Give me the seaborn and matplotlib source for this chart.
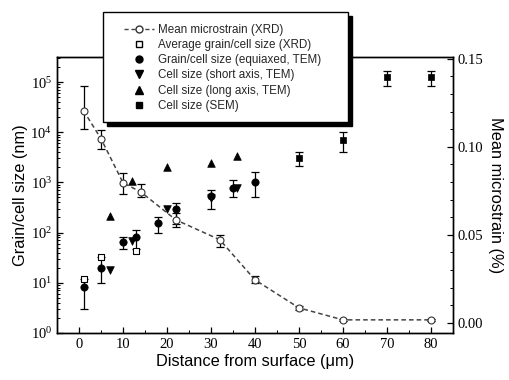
import numpy as np
import pandas as pd
import matplotlib
matplotlib.use("Agg")
import matplotlib.pyplot as plt
import seaborn as sns
from matplotlib.lines import Line2D
from matplotlib.patches import Rectangle
from matplotlib.ticker import LogLocator, MultipleLocator, NullFormatter, FixedLocator

sns.set_theme(style="ticks")
plt.rcParams['font.family'] = ['Liberation Sans', 'DejaVu Sans']

# Mean microstrain (XRD) - right axis
strain_x = [1, 5, 10, 14, 22, 32, 40, 50, 60, 80]
strain_y = [0.1205, 0.1045, 0.0795, 0.0744, 0.0585, 0.0472, 0.0244, 0.0085, 0.0017, 0.0017]
strain_lo = [0.110, 0.0989, 0.0733, 0.0716, 0.0545, 0.0432, 0.0224, 0.0075, 0.0012, 0.0012]
strain_hi = [0.1347, 0.1097, 0.0852, 0.0790, 0.0625, 0.0500, 0.0264, 0.0095, 0.0022, 0.0022]

# Average grain/cell size (XRD)
xrd_x = [1, 5, 13]
xrd_y = [12, 33, 42]

# Grain/cell size (equiaxed, TEM)
eq_x = [1, 5, 10, 13, 18, 22, 30, 35, 40]
eq_y = [8.3, 20, 66, 83, 158, 300, 525, 790, 1000]
eq_lo = [3, 10, 48, 46, 100, 145, 300, 500, 500]
eq_hi = [12, 32, 83, 110, 200, 380, 720, 1100, 1600]

# Cell size (short axis, TEM)
short_x = [7, 12, 20, 30, 36]
short_y = [18, 69, 290, 480, 760]

# Cell size (long axis, TEM)
long_x = [7, 12, 20, 30, 36]
long_y = [210, 1050, 2000, 2400, 3300]

# Cell size (SEM)
sem_x = [50, 60, 70, 80]
sem_y = [3000, 6900, 126000, 126000]
sem_lo = [2100, 4000, 83000, 83000]
sem_hi = [4000, 10000, 166000, 166000]

labels = ["Mean microstrain (XRD)", "Average grain/cell size (XRD)",
          "Grain/cell size (equiaxed, TEM)", "Cell size (short axis, TEM)",
          "Cell size (long axis, TEM)", "Cell size (SEM)"]

fig = plt.figure(figsize=(5.1, 3.8), dpi=100)
ax = fig.add_axes([0.112, 0.124, 0.776, 0.726])
ax2 = ax.twinx()

# error bars (left axis)
ax.errorbar(eq_x, eq_y, yerr=[np.array(eq_y) - np.array(eq_lo), np.array(eq_hi) - np.array(eq_y)],
            fmt='none', ecolor='black', elinewidth=0.9, capsize=3, capthick=0.9)
ax.errorbar(sem_x, sem_y, yerr=[np.array(sem_y) - np.array(sem_lo), np.array(sem_hi) - np.array(sem_y)],
            fmt='none', ecolor='black', elinewidth=0.9, capsize=3, capthick=0.9)

df_xrd = pd.DataFrame({"x": xrd_x, "y": xrd_y})
df_eq = pd.DataFrame({"x": eq_x, "y": eq_y})
df_short = pd.DataFrame({"x": short_x, "y": short_y})
df_long = pd.DataFrame({"x": long_x, "y": long_y})
df_sem = pd.DataFrame({"x": sem_x, "y": sem_y})

sns.scatterplot(data=df_xrd, x="x", y="y", ax=ax, marker='s', s=22, facecolor='white',
                edgecolor='black', linewidth=0.8, zorder=4)
sns.scatterplot(data=df_eq, x="x", y="y", ax=ax, marker='o', s=28, color='black',
                edgecolor='black', linewidth=0.5, zorder=5)
sns.scatterplot(data=df_short, x="x", y="y", ax=ax, marker='v', s=30, color='black',
                edgecolor='black', linewidth=0.5, zorder=5)
sns.scatterplot(data=df_long, x="x", y="y", ax=ax, marker='^', s=30, color='black',
                edgecolor='black', linewidth=0.5, zorder=5)
sns.scatterplot(data=df_sem, x="x", y="y", ax=ax, marker='s', s=22, color='black',
                edgecolor='black', linewidth=0.5, zorder=5)

ax.set_yscale('log')
ax.set_xlim(-5, 85)
ax.set_ylim(1, 10**5.5)

# strain on right axis
ax2.errorbar(strain_x, strain_y,
             yerr=[np.array(strain_y) - np.array(strain_lo), np.array(strain_hi) - np.array(strain_y)],
             fmt='none', ecolor='black', elinewidth=0.9, capsize=3, capthick=0.9)
df_s = pd.DataFrame({"x": strain_x, "y": strain_y})
sns.lineplot(data=df_s, x="x", y="y", ax=ax2, color='#444444', linestyle=(0, (3, 2)),
             linewidth=1.1, marker='o', markersize=5, markerfacecolor='white',
             markeredgecolor='#333333', markeredgewidth=0.8)
ax2.set_ylim(-0.0057, 0.151)

serif = ['Liberation Serif', 'DejaVu Serif']
for a in (ax, ax2):
    for sp in a.spines.values():
        sp.set_linewidth(1.0)
        sp.set_color('black')
ax.tick_params(axis='both', which='both', direction='in', colors='black', labelsize=10.5)
ax.tick_params(axis='both', which='major', length=4, width=0.9)
ax.tick_params(axis='both', which='minor', length=2, width=0.7)
ax.tick_params(axis='y', which='both', right=False)
ax2.tick_params(axis='y', which='both', direction='in', colors='black', labelsize=10.5)
ax2.tick_params(axis='y', which='major', length=4, width=0.9)
ax2.tick_params(axis='y', which='minor', length=2, width=0.7)

ax.xaxis.set_major_locator(FixedLocator([0, 10, 20, 30, 40, 50, 60, 70, 80]))
ax.xaxis.set_minor_locator(MultipleLocator(5))
ax.yaxis.set_major_locator(LogLocator(base=10, numticks=10))
ax.yaxis.set_minor_locator(LogLocator(base=10, subs=np.arange(2, 10), numticks=20))
ax.yaxis.set_minor_formatter(NullFormatter())
ax2.yaxis.set_major_locator(FixedLocator([0.0, 0.05, 0.10, 0.15]))
ax2.yaxis.set_minor_locator(MultipleLocator(0.01))
ax2.set_yticklabels(["0.00", "0.05", "0.10", "0.15"])

for lab in ax.get_xticklabels() + ax.get_yticklabels() + ax2.get_yticklabels():
    lab.set_family(serif)

ax.set_xlabel("Distance from surface (\u03bcm)", fontsize=11.8, color='black', labelpad=2)
ax.set_ylabel("Grain/cell size (nm)", fontsize=11.8, color='black', labelpad=2)
ax2.set_ylabel("Mean microstrain (%)", fontsize=11.8, color='black', rotation=270, labelpad=14)

handles = [
    Line2D([], [], color='#444444', linestyle=(0, (3, 2)), linewidth=1.0, marker='o',
           markersize=5, markerfacecolor='white', markeredgecolor='#333333'),
    Line2D([], [], linestyle='none', marker='s', markersize=4.5, markerfacecolor='white',
           markeredgecolor='black'),
    Line2D([], [], linestyle='none', marker='o', markersize=5, color='black'),
    Line2D([], [], linestyle='none', marker='v', markersize=5.5, color='black'),
    Line2D([], [], linestyle='none', marker='^', markersize=5.5, color='black'),
    Line2D([], [], linestyle='none', marker='s', markersize=4.5, color='black'),
]

W, H = 510.0, 380.0
# legend box (frame + black drop shadow) in figure pixel units
bx0, bx1, by0, by1 = 103, 348, 12, 122
off = 4
shadow = Rectangle(((bx0 + off) / W, 1 - (by1 + off) / H), (bx1 - bx0) / W, (by1 - by0) / H,
                   transform=fig.transFigure, facecolor='black', edgecolor='black', zorder=8)
frame = Rectangle((bx0 / W, 1 - by1 / H), (bx1 - bx0) / W, (by1 - by0) / H,
                  transform=fig.transFigure, facecolor='white', edgecolor='black',
                  linewidth=1.0, zorder=9)
fig.patches.append(shadow)
fig.patches.append(frame)

leg = fig.legend(handles, labels, loc='upper left', bbox_to_anchor=(124 / W, 1 - 24 / H),
                 fontsize=8.4, frameon=False, handlelength=2.6,
                 handletextpad=0.35, labelspacing=0.27, borderpad=0, borderaxespad=0)
leg.set_zorder(10)

fig.savefig("out.png", dpi=100)
